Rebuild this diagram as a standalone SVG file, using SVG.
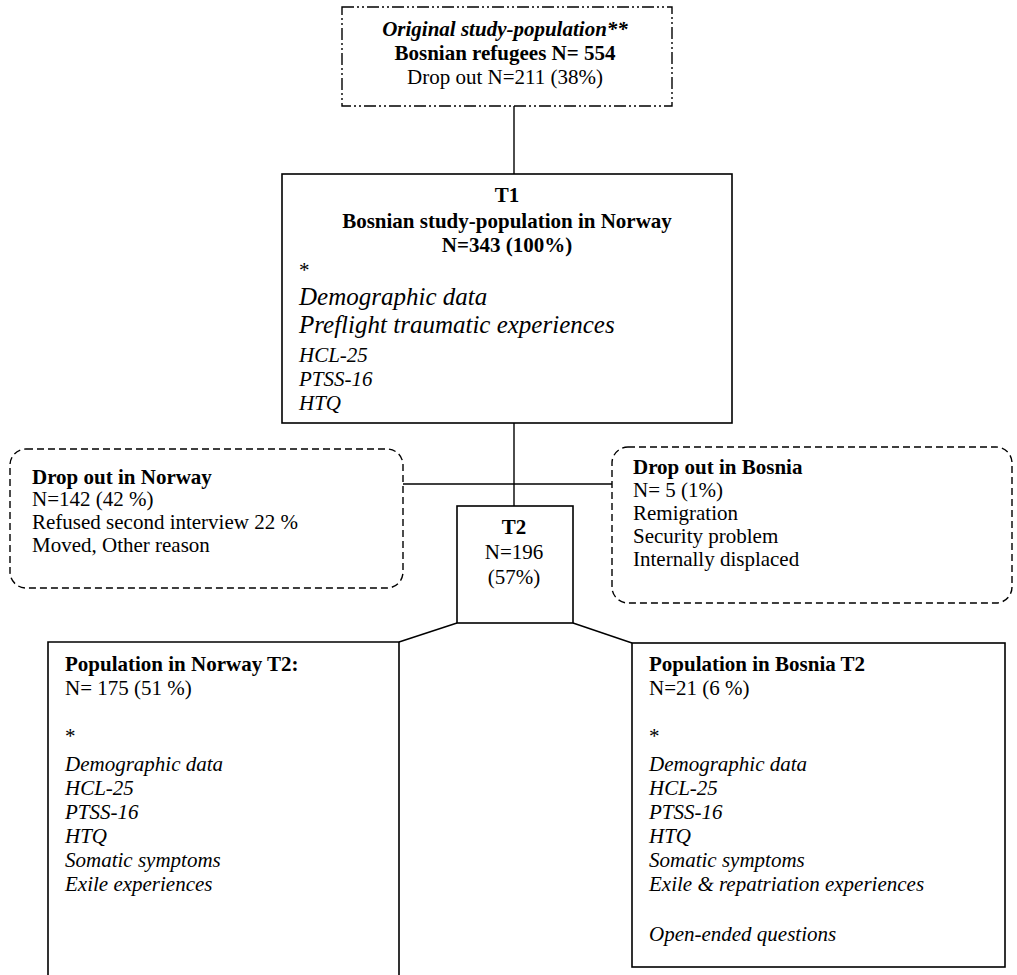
<svg xmlns="http://www.w3.org/2000/svg" width="1017" height="975" viewBox="0 0 1017 975">
<style>
text{font-family:"Liberation Serif","Times New Roman",serif;font-size:21px;fill:#000}
.b{font-weight:bold}
.i{font-style:italic}
.bi{font-weight:bold;font-style:italic}
.big{font-size:25px;font-style:italic}
.c{text-anchor:middle}
.box{fill:none;stroke:#000;stroke-width:1.6}
.dd{fill:none;stroke:#000;stroke-width:1.4;stroke-dasharray:12 3 2 3 2 3}
.dash{fill:none;stroke:#000;stroke-width:1.4;stroke-dasharray:7 4}
.con{fill:none;stroke:#000;stroke-width:1.4}
</style>
<rect width="1017" height="975" fill="#fff"/>
<g id="connectors">
<line class="con" x1="514" y1="106" x2="514" y2="174"/>
<line class="con" x1="514" y1="423" x2="514" y2="506"/>
<line class="con" x1="403" y1="484" x2="612" y2="484"/>
<line class="con" x1="457" y1="623" x2="399" y2="642"/>
<line class="con" x1="573" y1="623" x2="632" y2="643"/>
</g>
<g id="original">
<rect class="dd" x="342" y="7" width="330" height="99"/>
<text class="bi c" x="505" y="36">Original study-population**</text>
<text class="b c" x="505" y="60">Bosnian refugees N= 554</text>
<text class="c" x="505" y="84">Drop out N=211 (38%)</text>
</g>
<g id="t1">
<rect class="box" x="282" y="174" width="450" height="249"/>
<text class="b c" x="507" y="202">T1</text>
<text class="b c" x="507" y="228">Bosnian study-population in Norway</text>
<text class="b c" x="507" y="252">N=343 (100%)</text>
<text x="299" y="277">*</text>
<text class="big" x="299" y="305">Demographic data</text>
<text class="big" x="299" y="333">Preflight traumatic experiences</text>
<text class="i" x="299" y="362">HCL-25</text>
<text class="i" x="299" y="386">PTSS-16</text>
<text class="i" x="299" y="410">HTQ</text>
</g>
<g id="dropNorway">
<rect class="dash" x="10" y="449" width="393" height="139" rx="16"/>
<text class="b" x="32" y="484">Drop out in Norway</text>
<text x="32" y="506">N=142 (42 %)</text>
<text x="32" y="529">Refused second interview 22 %</text>
<text x="32" y="552">Moved, Other reason</text>
</g>
<g id="dropBosnia">
<rect class="dash" x="612" y="447" width="400" height="156" rx="16"/>
<text class="b" x="633" y="474">Drop out in Bosnia</text>
<text x="633" y="497">N= 5 (1%)</text>
<text x="633" y="520">Remigration</text>
<text x="633" y="543">Security problem</text>
<text x="633" y="566">Internally displaced</text>
</g>
<g id="t2">
<rect class="box" x="457" y="506" width="116" height="117"/>
<text class="b c" x="514" y="534">T2</text>
<text class="c" x="514" y="559">N=196</text>
<text class="c" x="514" y="584">(57%)</text>
</g>
<g id="popNorway">
<path class="box" d="M48 976 V642 H399 V976"/>
<text class="b" x="65" y="671">Population in Norway T2:</text>
<text x="65" y="695">N= 175  (51 %)</text>
<text x="65" y="743">*</text>
<text class="i" x="65" y="771">Demographic data</text>
<text class="i" x="65" y="795">HCL-25</text>
<text class="i" x="65" y="819">PTSS-16</text>
<text class="i" x="65" y="843">HTQ</text>
<text class="i" x="65" y="867">Somatic symptoms</text>
<text class="i" x="65" y="891">Exile experiences</text>
</g>
<g id="popBosnia">
<rect class="box" x="632" y="643" width="373" height="324"/>
<text class="b" x="649" y="671">Population in Bosnia T2</text>
<text x="649" y="695">N=21 (6 %)</text>
<text x="649" y="743">*</text>
<text class="i" x="649" y="771">Demographic data</text>
<text class="i" x="649" y="795">HCL-25</text>
<text class="i" x="649" y="819">PTSS-16</text>
<text class="i" x="649" y="843">HTQ</text>
<text class="i" x="649" y="867">Somatic symptoms</text>
<text class="i" x="649" y="891">Exile &amp; repatriation experiences</text>
<text class="i" x="649" y="941">Open-ended questions</text>
</g>
</svg>
